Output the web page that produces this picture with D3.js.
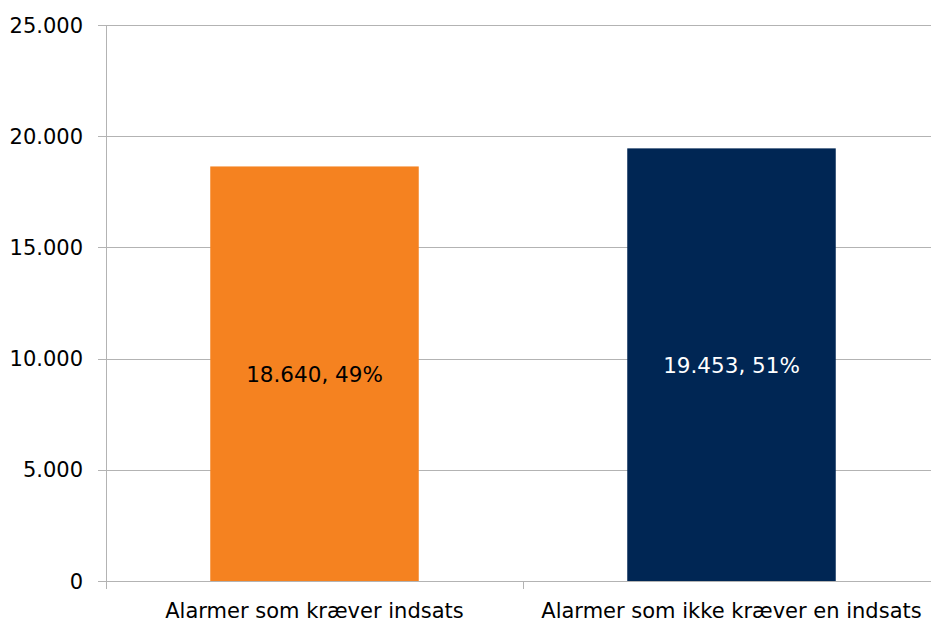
<!DOCTYPE html>
<html>
<head>
<meta charset="utf-8">
<script src="https://cdn.jsdelivr.net/npm/d3@7"></script>
<style>
  body { margin: 0; background: #fff; }
  text { font-family: "DejaVu Sans", sans-serif; }
</style>
</head>
<body>
<svg id="svg"></svg>
<script>
var categories = ["Alarmer som kræver indsats", "Alarmer som ikke kræver en indsats"];
var values = [18640, 19453];
var labels = ["18.640, 49%", "19.453, 51%"];
var colors = ["#f58220", "#002654"];
var labelColors = ["#000", "#fff"];
var yTicks = [0, 5000, 10000, 15000, 20000, 25000];

var width = 931, height = 622;
var svg = d3.select("#svg")
    .attr("width", width)
    .attr("height", height);

var plotLeft = 106, plotTop = 25, plotBottom = 581,
    bandW = 417;

var x = d3.scaleBand()
    .domain(categories)
    .range([plotLeft, plotLeft + bandW * categories.length])
    .paddingInner(0.5)
    .paddingOuter(0.25);

var y = d3.scaleLinear()
    .domain([0, 25000])
    .range([plotBottom, plotTop]);

var fmt = function(d) { return d3.format(",")(d).replace(/,/g, "."); };

// gridlines
svg.append("g")
    .selectAll("line")
    .data(yTicks)
    .enter().append("line")
      .attr("x1", plotLeft - 8)
      .attr("x2", width)
      .attr("y1", function(d) { return Math.round(y(d)) + 0.5; })
      .attr("y2", function(d) { return Math.round(y(d)) + 0.5; })
      .attr("stroke", "#b3b3b3")
      .attr("stroke-width", 1);

// y axis line
svg.append("line")
    .attr("x1", plotLeft + 0.5).attr("x2", plotLeft + 0.5)
    .attr("y1", plotTop).attr("y2", plotBottom + 8)
    .attr("stroke", "#b3b3b3");

// category ticks
svg.append("g")
    .selectAll("line")
    .data(d3.range(categories.length + 1))
    .enter().append("line")
      .attr("x1", function(i) { return plotLeft + i * bandW + 0.5; })
      .attr("x2", function(i) { return plotLeft + i * bandW + 0.5; })
      .attr("y1", plotBottom)
      .attr("y2", plotBottom + 8)
      .attr("stroke", "#b3b3b3");

// y tick labels
svg.append("g")
    .selectAll("text")
    .data(yTicks)
    .enter().append("text")
      .attr("x", 83)
      .attr("y", function(d) { return y(d); })
      .attr("dy", "0.36em")
      .attr("text-anchor", "end")
      .attr("font-size", 21)
      .attr("fill", "#000")
      .text(fmt);

// bars
svg.append("g")
    .selectAll("rect")
    .data(values)
    .enter().append("rect")
      .attr("x", function(d, i) { return x(categories[i]); })
      .attr("width", x.bandwidth())
      .attr("y", function(d) { return y(d); })
      .attr("height", function(d) { return y(0) - y(d); })
      .attr("fill", function(d, i) { return colors[i]; });

// value labels
svg.append("g")
    .selectAll("text")
    .data(values)
    .enter().append("text")
      .attr("x", function(d, i) { return x(categories[i]) + x.bandwidth() / 2; })
      .attr("y", function(d) { return (y(d) + y(0)) / 2; })
      .attr("dy", "0.38em")
      .attr("text-anchor", "middle")
      .attr("font-size", 21.5)
      .attr("fill", function(d, i) { return labelColors[i]; })
      .text(function(d, i) { return labels[i]; });

// category labels
svg.append("g")
    .selectAll("text")
    .data(categories)
    .enter().append("text")
      .attr("x", function(d) { return x(d) + x.bandwidth() / 2; })
      .attr("y", 618)
      .attr("text-anchor", "middle")
      .attr("font-size", 21)
      .attr("fill", "#000")
      .text(function(d) { return d; });
</script>
</body>
</html>
